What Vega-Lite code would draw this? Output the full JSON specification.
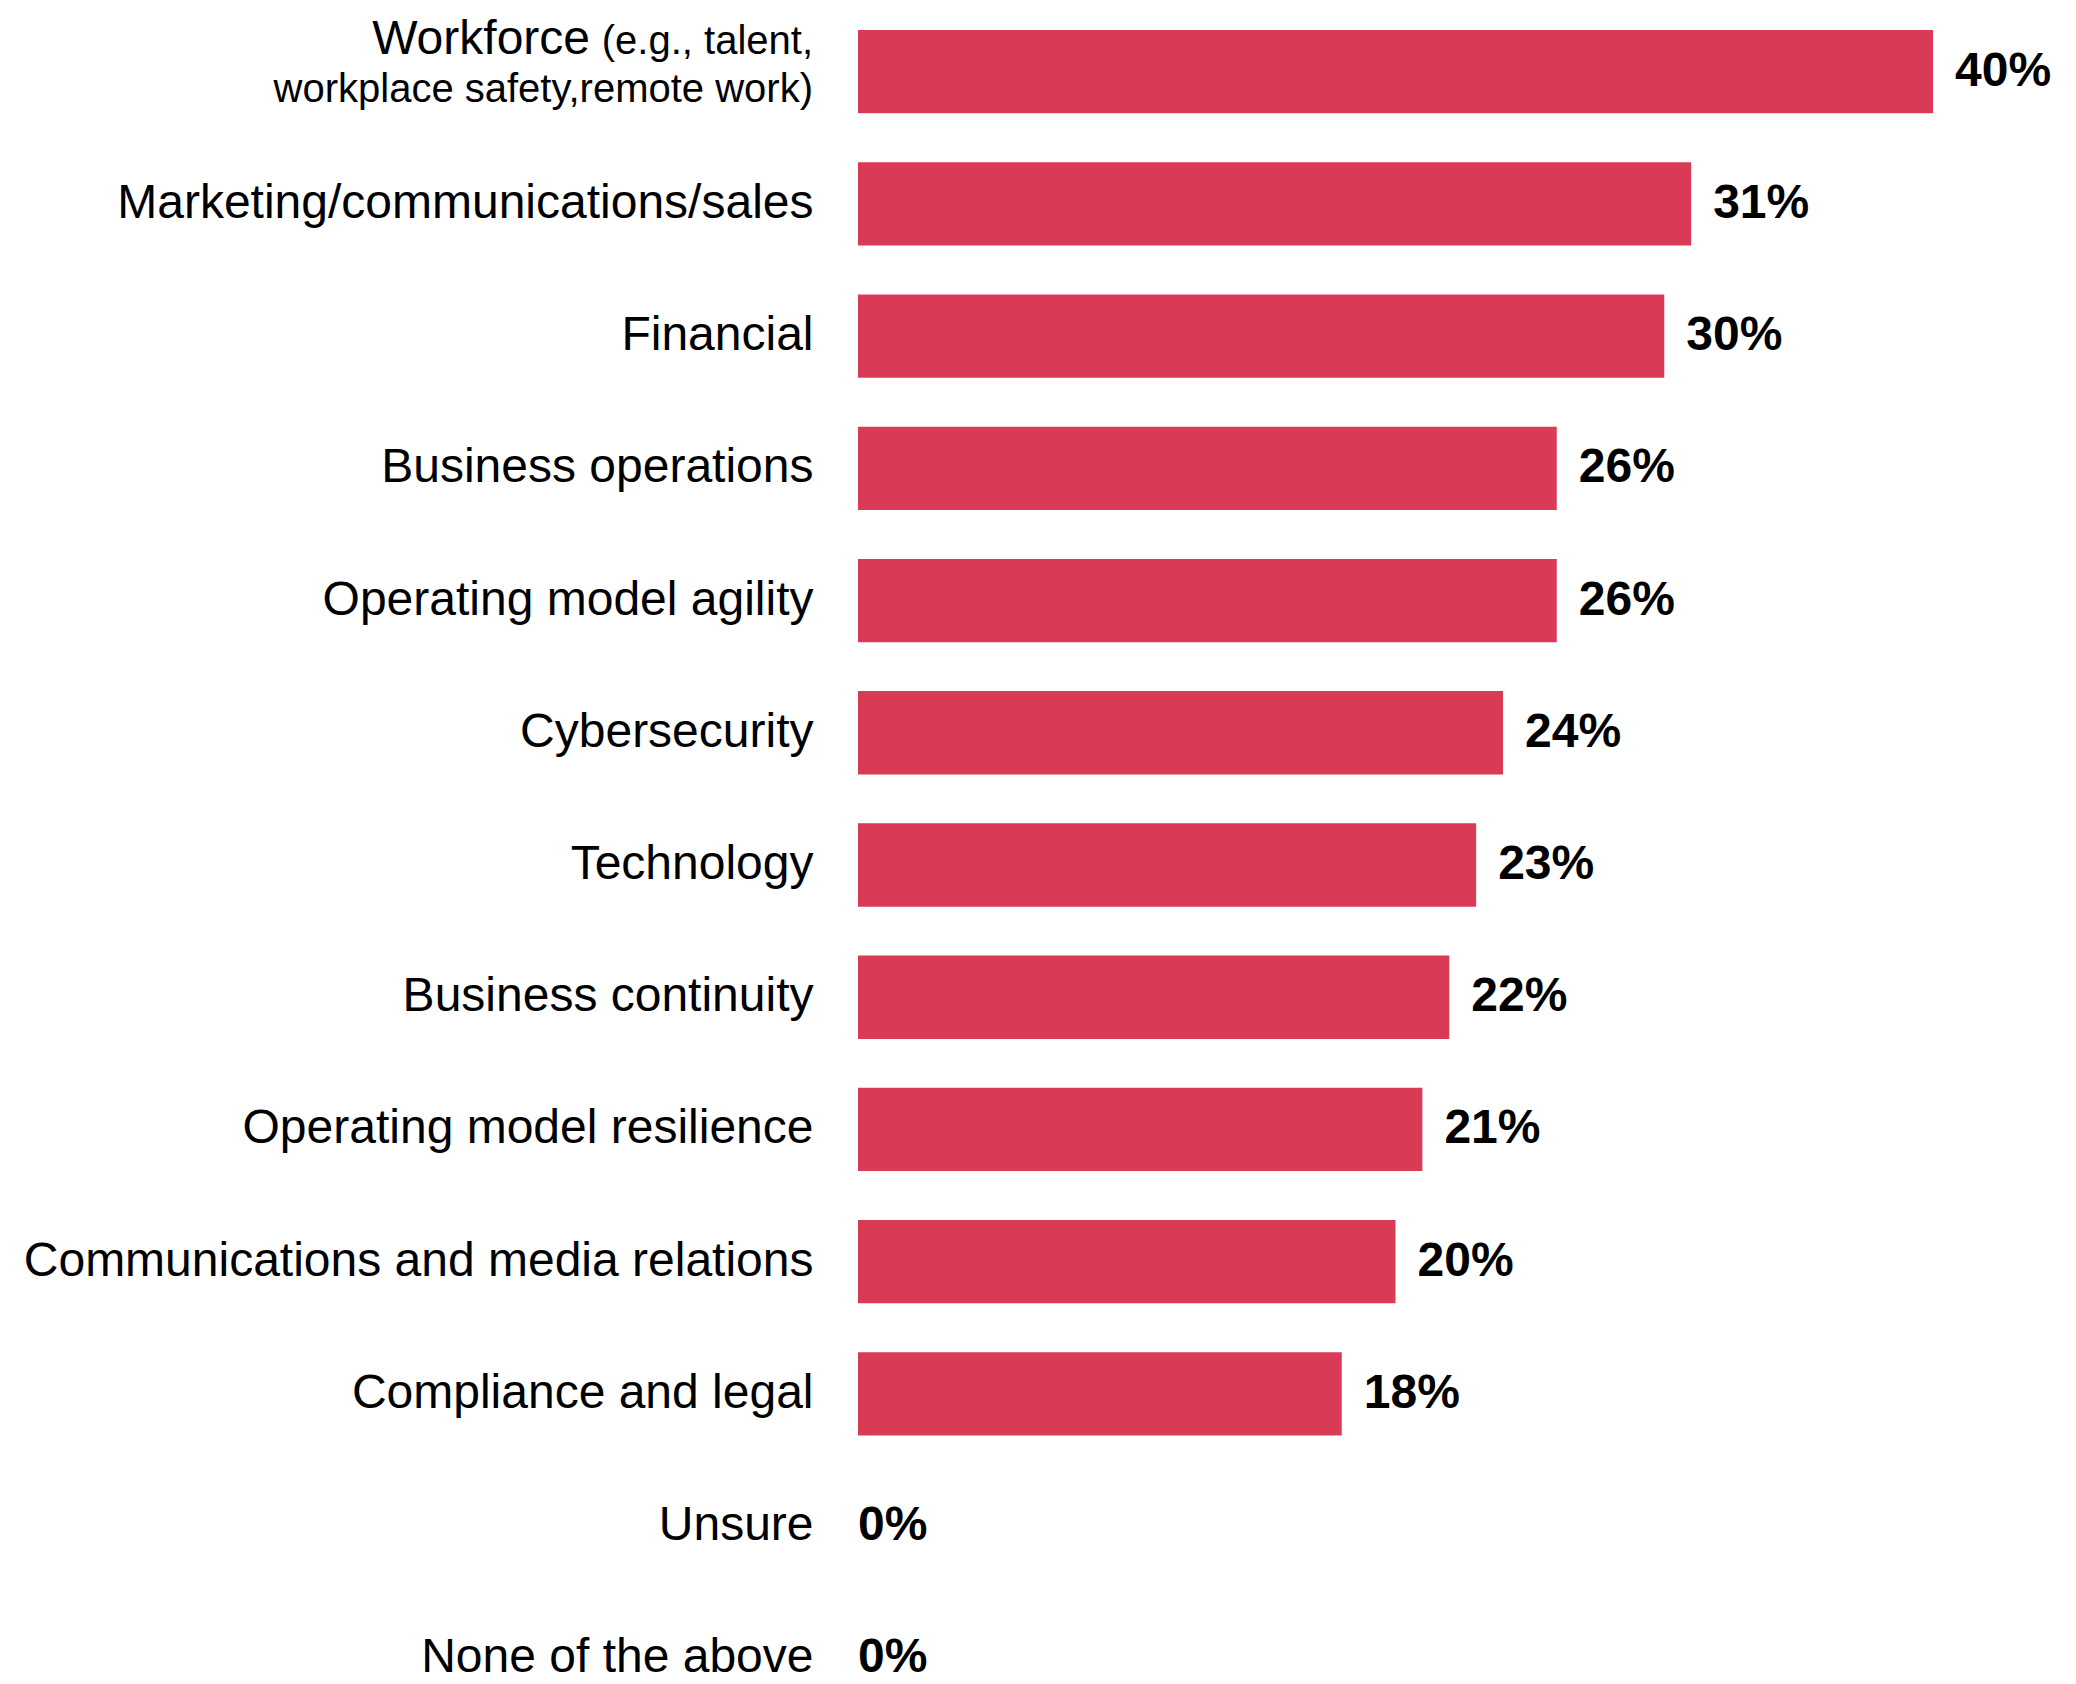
{
  "$schema": "https://vega.github.io/schema/vega-lite/v6.json",
  "width": 1075,
  "height": 1684,
  "autosize": {"type": "none"},
  "padding": {"left": 858, "right": 143, "top": 0, "bottom": 0},
  "background": "white",
  "config": {"view": {"stroke": null}, "font": "Liberation Sans"},
  "data": {
    "values": [
      {"category": "Workforce", "value": 40, "pct": "40%", "note1": "(e.g., talent,", "note2": "workplace safety,remote work)"},
      {"category": "Marketing/communications/sales", "value": 31, "pct": "31%"},
      {"category": "Financial", "value": 30, "pct": "30%"},
      {"category": "Business operations", "value": 26, "pct": "26%"},
      {"category": "Operating model agility", "value": 26, "pct": "26%"},
      {"category": "Cybersecurity", "value": 24, "pct": "24%"},
      {"category": "Technology", "value": 23, "pct": "23%"},
      {"category": "Business continuity", "value": 22, "pct": "22%"},
      {"category": "Operating model resilience", "value": 21, "pct": "21%"},
      {"category": "Communications and media relations", "value": 20, "pct": "20%"},
      {"category": "Compliance and legal", "value": 18, "pct": "18%"},
      {"category": "Unsure", "value": 0, "pct": "0%"},
      {"category": "None of the above", "value": 0, "pct": "0%"}
    ]
  },
  "encoding": {
    "y": {
      "field": "category",
      "type": "nominal",
      "sort": null,
      "scale": {"range": [30, 1700], "paddingInner": 0.37, "paddingOuter": 0},
      "axis": {
        "title": null,
        "domain": false,
        "ticks": false,
        "tickSize": 0,
        "grid": false,
        "labelPadding": 45,
        "labelFontSize": 48,
        "labelFont": "Liberation Sans",
        "labelColor": "#000000",
        "labelLimit": 0,
        "labelExpr": "datum.value == 'Workforce' ? '' : datum.value"
      }
    }
  },
  "layer": [
    {
      "mark": {"type": "bar", "color": "#D93A56"},
      "encoding": {
        "x": {"field": "value", "type": "quantitative", "scale": {"domain": [0, 40], "nice": false}, "axis": null}
      }
    },
    {
      "transform": [{"filter": "datum.value > 0"}],
      "mark": {"type": "text", "align": "left", "baseline": "middle", "dx": 22, "fontSize": 48, "fontWeight": "bold", "color": "#000000"},
      "encoding": {
        "x": {"field": "value", "type": "quantitative"},
        "text": {"field": "pct"}
      }
    },
    {
      "transform": [{"filter": "datum.value == 0"}],
      "mark": {"type": "text", "align": "left", "baseline": "middle", "dx": 0, "fontSize": 48, "fontWeight": "bold", "color": "#000000"},
      "encoding": {
        "x": {"field": "value", "type": "quantitative"},
        "text": {"field": "pct"}
      }
    },
    {
      "transform": [{"filter": "datum.category == 'Workforce'"}],
      "mark": {"type": "text", "align": "right", "baseline": "alphabetic", "dx": -268, "dy": -18, "fontSize": 48, "color": "#000000"},
      "encoding": {
        "x": {"datum": 0, "type": "quantitative"},
        "text": {"field": "category"}
      }
    },
    {
      "transform": [{"filter": "datum.category == 'Workforce'"}],
      "mark": {"type": "text", "align": "right", "baseline": "alphabetic", "dx": -45, "dy": -18, "fontSize": 40, "color": "#000000"},
      "encoding": {
        "x": {"datum": 0, "type": "quantitative"},
        "text": {"field": "note1"}
      }
    },
    {
      "transform": [{"filter": "datum.category == 'Workforce'"}],
      "mark": {"type": "text", "align": "right", "baseline": "alphabetic", "dx": -45, "dy": 30, "fontSize": 40, "color": "#000000"},
      "encoding": {
        "x": {"datum": 0, "type": "quantitative"},
        "text": {"field": "note2"}
      }
    }
  ]
}
